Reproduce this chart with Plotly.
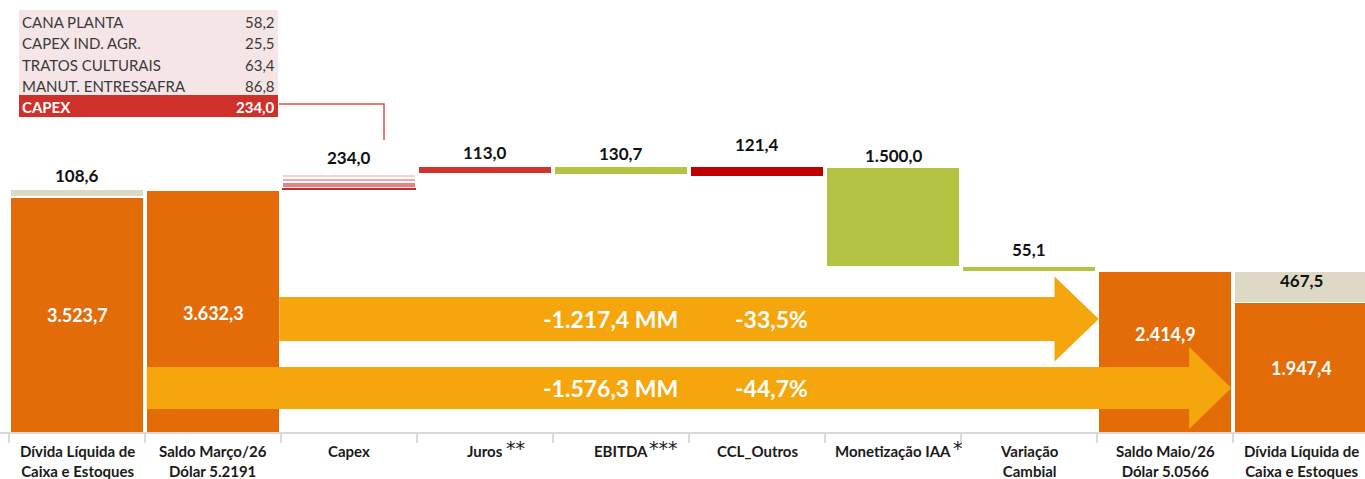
import plotly.graph_objects as go

# ---------------- data ----------------
categories = ["Dívida Líquida de<br>Caixa e Estoques", "Saldo Março/26<br>Dólar 5.2191", "Capex",
              "Juros", "EBITDA", "CCL_Outros", "Monetização IAA",
              "Variação<br>Cambial", "Saldo Maio/26<br>Dólar 5.0566", "Dívida Líquida de<br>Caixa e Estoques"]
category_marks = ["", "", "", "**", "***", "", "*", "", "", ""]

# value labels shown on the chart
top_labels = ["108,6", "", "234,0", "113,0", "130,7", "121,4", "1.500,0", "55,1", "", "467,5"]
inner_labels = ["3.523,7", "3.632,3", "", "", "", "", "", "", "2.414,9", "1.947,4"]

# the original chart is illustrative (not to scale): bar extents in its visual units
main_base = [0, 0, None, 259, 258, 256, 166, 161, 0, 0]
main_top = [234, 241, None, 265, 265, 265, 264, 165, 160, 129]
cap_idx = [0, 9]
cap_base = [236, 130]
cap_top = [242, 160]
capex_stripe_base = [255.3, 251.3, 245.3, 242.2]
capex_stripe_top = [257.0, 253.0, 249.0, 243.3]

table_labels = ["CANA PLANTA", "CAPEX IND. AGR.", "TRATOS CULTURAIS", "MANUT. ENTRESSAFRA"]
table_values = ["58,2", "25,5", "63,4", "86,8"]
table_total_label = "CAPEX"
table_total_value = "234,0"

arrow_texts = [("-1.217,4 MM", "-33,5%"), ("-1.576,3 MM", "-44,7%")]

# ---------------- styles ----------------
ORANGE = "#E36C09"
BEIGE = "#DDD9C4"
GREEN = "#B5C343"
RED = "#D0342C"
DARKRED = "#C00000"
ARROW = "#F5A60C"
main_colors = [ORANGE, ORANGE, None, RED, GREEN, DARKRED, GREEN, GREEN, ORANGE, ORANGE]
stripe_colors = ["#F8D2D2", "#EFA7A7", "#E88282", "#C0302A"]
stripe_widths = [0.975, 0.975, 0.975, 0.99]
mark_shift = [0, 0, 0, 19, 26, 0, 58, 0, 0, 0]   # px offset of footnote marks
FONT = "Lato"
BW = 0.975
PLOT_H = 432.0
W = 1365.0

x = list(range(len(categories)))
fig = go.Figure()

# main bars
mx = [i for i in x if main_base[i] is not None]
fig.add_trace(go.Bar(x=mx, base=[main_base[i] for i in mx],
                     y=[main_top[i] - main_base[i] for i in mx],
                     marker=dict(color=[main_colors[i] for i in mx], line=dict(width=0)),
                     width=BW, hoverinfo="skip", showlegend=False))
# beige caps
fig.add_trace(go.Bar(x=cap_idx, base=cap_base, y=[t - b for t, b in zip(cap_top, cap_base)],
                     marker=dict(color=BEIGE, line=dict(width=0)), width=BW,
                     hoverinfo="skip", showlegend=False))
# capex stripes
for b, t, c, w in zip(capex_stripe_base, capex_stripe_top, stripe_colors, stripe_widths):
    fig.add_trace(go.Bar(x=[2], base=[b], y=[t - b], marker=dict(color=c, line=dict(width=0)),
                         width=w, hoverinfo="skip", showlegend=False))

fig.update_layout(barmode="overlay")

# ---------------- label positions ----------------
top_label_y = [257, None, 275, 280, 279, 288, 277, 183, None, 152]
inner_label_y = [117, 119, None, None, None, None, None, None, 98, 64]

for i in x:
    if top_labels[i]:
        fig.add_annotation(x=i, y=top_label_y[i], text=top_labels[i], showarrow=False,
                           font=dict(family=FONT, size=17, color="#111111", weight="bold"),
                           xanchor="center", yanchor="middle")
    if inner_labels[i]:
        fig.add_annotation(x=i, y=inner_label_y[i], text=inner_labels[i], showarrow=False,
                           font=dict(family=FONT, size=18, color="white", weight="bold"),
                           xanchor="center", yanchor="middle")
    fig.add_annotation(x=i, y=-8 / PLOT_H, yref="paper", text=categories[i], showarrow=False,
                       font=dict(family=FONT, size=15, color="#1a1a1a", weight="bold"),
                       xanchor="center", yanchor="top", align="center")
    if category_marks[i]:
        fig.add_annotation(x=i, y=-3 / PLOT_H, yref="paper", text=category_marks[i], showarrow=False,
                           xshift=mark_shift[i], xanchor="left", yanchor="top",
                           font=dict(family="DejaVu Sans", size=19, color="#1a1a1a"))

# ---------------- arrows ----------------
def arrow_path(x0, x1, yc, body_half, head_half, head_len):
    xh = x1 - head_len
    return (f"M {x0},{yc - body_half} L {xh},{yc - body_half} L {xh},{yc - head_half} "
            f"L {x1},{yc} L {xh},{yc + head_half} L {xh},{yc + body_half} L {x0},{yc + body_half} Z")

half = BW / 2
arrows = [
    dict(x0=1 + half, x1=8 - half, yc=113, body=22, head=42.5, hl=0.325),
    dict(x0=1 - half, x1=8 + half, yc=44, body=21, head=41, hl=0.31),
]
for a, (t1, t2) in zip(arrows, arrow_texts):
    fig.add_shape(type="path", path=arrow_path(a["x0"], a["x1"], a["yc"], a["body"], a["head"], a["hl"]),
                  fillcolor=ARROW, line=dict(width=0), layer="above")
    fig.add_annotation(x=3.92, y=a["yc"], text=t1, showarrow=False,
                       font=dict(family=FONT, size=23, color="white", weight="bold"))
    fig.add_annotation(x=5.11, y=a["yc"], text=t2, showarrow=False,
                       font=dict(family=FONT, size=23, color="white", weight="bold"))

# ---------------- capex table ----------------
def px(v):
    return v / W

fig.add_shape(type="rect", xref="paper", yref="y", x0=px(19), x1=px(278), y0=PLOT_H - 95, y1=PLOT_H - 10,
              fillcolor="#F5E5E6", line=dict(width=0), layer="above")
fig.add_shape(type="rect", xref="paper", yref="y", x0=px(19), x1=px(278), y0=PLOT_H - 117, y1=PLOT_H - 95,
              fillcolor="#D0302A", line=dict(width=0), layer="above")
row_y = [22, 43.3, 64.6, 86]
for lab, val, ry in zip(table_labels, table_values, row_y):
    fig.add_annotation(xref="paper", x=px(20), y=PLOT_H - ry, text=lab, showarrow=False, xanchor="left",
                       font=dict(family=FONT, size=15, color="#3a3a3a"))
    fig.add_annotation(xref="paper", x=px(277), y=PLOT_H - ry, text=val, showarrow=False, xanchor="right",
                       font=dict(family=FONT, size=15, color="#3a3a3a"))
fig.add_annotation(xref="paper", x=px(20), y=PLOT_H - 107, text=table_total_label, showarrow=False,
                   xanchor="left", font=dict(family=FONT, size=15, color="white", weight="bold"))
fig.add_annotation(xref="paper", x=px(277), y=PLOT_H - 107, text=table_total_value, showarrow=False,
                   xanchor="right", font=dict(family=FONT, size=15, color="white", weight="bold"))
# connector line from table to Capex
fig.add_shape(type="path", xref="paper", yref="y",
              path=f"M {px(279)},{PLOT_H-104} L {px(384)},{PLOT_H-104} L {px(384)},{PLOT_H-140}",
              line=dict(color="#D9534F", width=1.5))

# ---------------- axes ----------------
fig.update_xaxes(range=[-0.5 - 9 / 136, -0.5 + (1365 - 9) / 136], showgrid=False, zeroline=False,
                 showline=True, linecolor="#D9D9D9", linewidth=2,
                 tickvals=[i - 0.5 for i in range(len(categories) + 1)], showticklabels=False,
                 ticks="outside", ticklen=9, tickcolor="#D9D9D9", tickwidth=2)
fig.update_yaxes(range=[0, PLOT_H], visible=False, showgrid=False, zeroline=False)
fig.update_layout(width=1365, height=479, margin=dict(l=0, r=0, t=0, b=47),
                  paper_bgcolor="white", plot_bgcolor="white", bargap=0,
                  font=dict(family=FONT))

fig.write_html("out.html", config={"displayModeBar": False},
               post_script="document.body.style.margin='0';")
